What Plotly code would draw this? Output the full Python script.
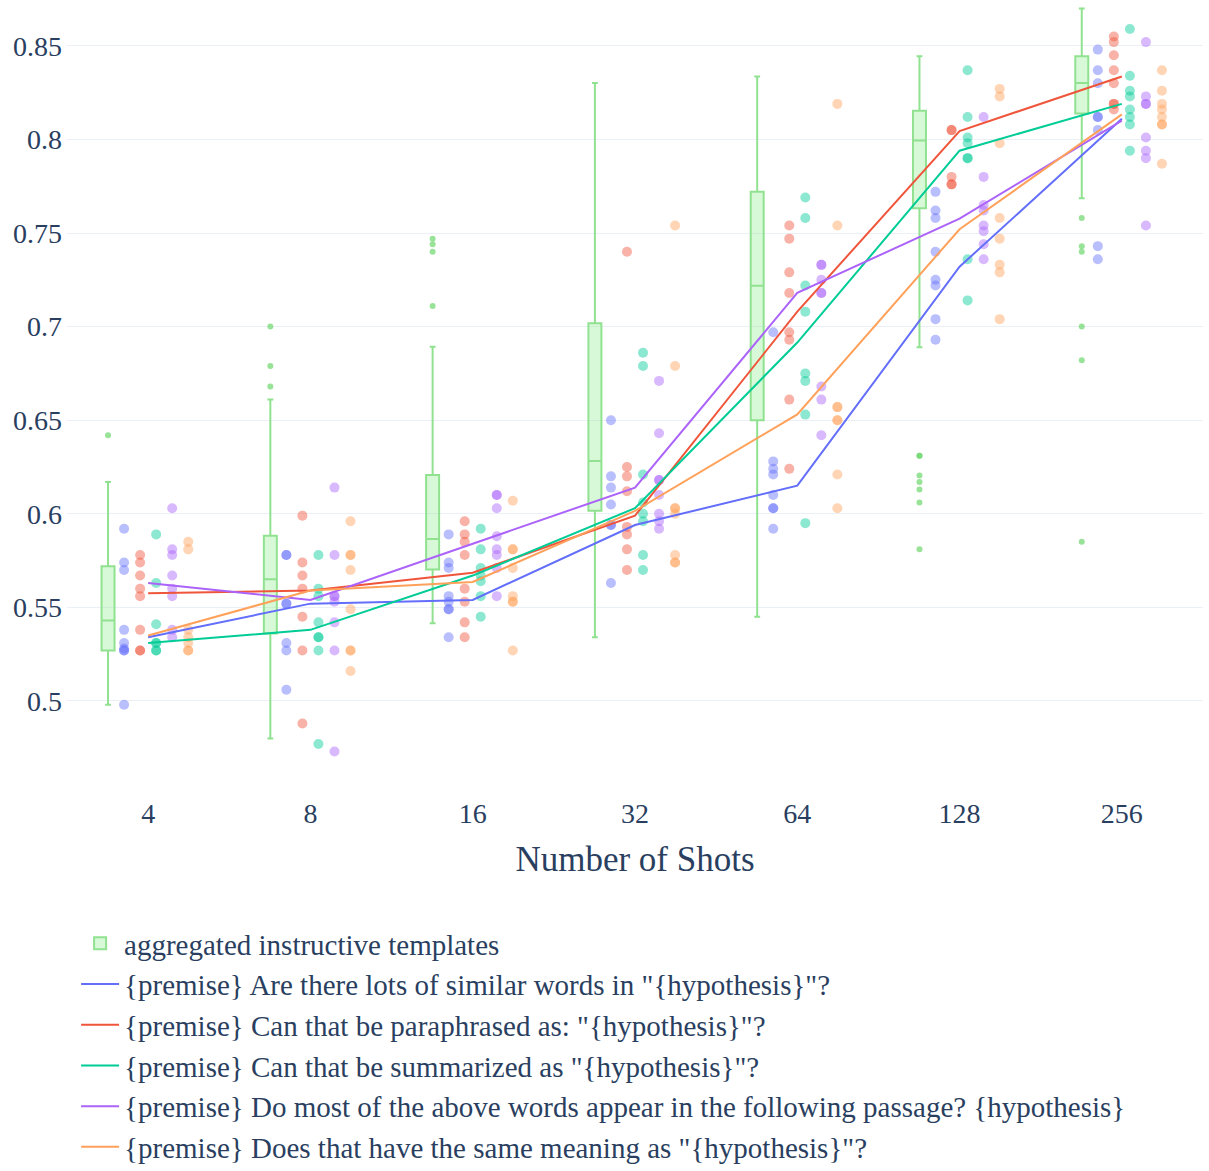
import plotly.graph_objects as go

categories = ["4", "8", "16", "32", "64", "128", "256"]

# aggregated instructive templates (box statistics)
box_lowerfence = [0.498, 0.480, 0.5415, 0.534, 0.545, 0.689, 0.7686]
box_q1 = [0.527, 0.536, 0.5703, 0.6016, 0.650, 0.7632, 0.8139]
box_median = [0.543, 0.565, 0.5865, 0.6282, 0.7219, 0.7994, 0.8302]
box_q3 = [0.572, 0.5883, 0.6207, 0.7018, 0.7721, 0.8153, 0.8445]
box_upperfence = [0.617, 0.661, 0.6893, 0.8301, 0.8336, 0.8444, 0.8699]
box_outliers = [
    [0.642],
    [0.668, 0.679, 0.700],
    [0.711, 0.740, 0.744, 0.747],
    [],
    [],
    [0.631, 0.631, 0.6205, 0.617, 0.613, 0.606, 0.581],
    [0.758, 0.743, 0.740, 0.700, 0.682, 0.585],
]

names = [
    '{premise} Are there lots of similar words in "{hypothesis}"?',
    '{premise} Can that be paraphrased as: "{hypothesis}"?',
    '{premise} Can that be summarized as "{hypothesis}"?',
    '{premise} Do most of the above words appear in the following passage? {hypothesis}',
    '{premise} Does that have the same meaning as "{hypothesis}"?',
]
colors = ["#636EFA", "#EF553B", "#00CC96", "#AB63FA", "#FFA15A"]

blue_points = [
    [0.592, 0.574, 0.570, 0.538, 0.531, 0.528, 0.527, 0.527, 0.498],
    [0.578, 0.578, 0.552, 0.552, 0.531, 0.527, 0.506],
    [0.589, 0.574, 0.571, 0.556, 0.553, 0.549, 0.549, 0.534],
    [0.650, 0.620, 0.614, 0.605, 0.594, 0.594, 0.563],
    [0.697, 0.628, 0.624, 0.621, 0.610, 0.603, 0.603, 0.592],
    [0.772, 0.762, 0.758, 0.740, 0.725, 0.722, 0.704, 0.693],
    [0.848, 0.837, 0.830, 0.812, 0.812, 0.805, 0.743, 0.736],
]
red_points = [
    [0.578, 0.574, 0.567, 0.560, 0.556, 0.538, 0.527, 0.527],
    [0.599, 0.574, 0.567, 0.560, 0.545, 0.527, 0.488],
    [0.596, 0.589, 0.585, 0.578, 0.560, 0.553, 0.542, 0.534],
    [0.740, 0.625, 0.620, 0.612, 0.593, 0.589, 0.581, 0.570],
    [0.754, 0.747, 0.729, 0.718, 0.697, 0.693, 0.661, 0.624],
    [0.805, 0.805, 0.780, 0.776, 0.776],
    [0.855, 0.852, 0.845, 0.837, 0.830, 0.819, 0.819, 0.816],
]
green_points = [
    [0.589, 0.563, 0.541, 0.531, 0.531, 0.527, 0.527],
    [0.578, 0.560, 0.556, 0.542, 0.534, 0.534, 0.527, 0.477],
    [0.592, 0.581, 0.571, 0.567, 0.564, 0.556, 0.545],
    [0.686, 0.679, 0.621, 0.606, 0.600, 0.596, 0.578, 0.570],
    [0.769, 0.758, 0.722, 0.708, 0.675, 0.671, 0.653, 0.595],
    [0.837, 0.812, 0.801, 0.798, 0.790, 0.790, 0.736, 0.714],
    [0.859, 0.834, 0.826, 0.823, 0.816, 0.812, 0.808, 0.794],
]
purple_points = [
    [0.603, 0.581, 0.578, 0.567, 0.560, 0.556, 0.538, 0.534],
    [0.614, 0.578, 0.556, 0.556, 0.553, 0.542, 0.527, 0.473],
    [0.610, 0.610, 0.603, 0.588, 0.581, 0.578, 0.571, 0.556],
    [0.671, 0.643, 0.618, 0.618, 0.610, 0.600, 0.596, 0.592],
    [0.733, 0.733, 0.725, 0.718, 0.718, 0.668, 0.661, 0.642],
    [0.812, 0.780, 0.765, 0.762, 0.754, 0.751, 0.744, 0.736],
    [0.852, 0.823, 0.819, 0.819, 0.801, 0.794, 0.790, 0.754],
]
orange_points = [
    [0.585, 0.581, 0.538, 0.534, 0.531, 0.527, 0.527],
    [0.596, 0.578, 0.578, 0.570, 0.549, 0.527, 0.527, 0.516],
    [0.607, 0.581, 0.581, 0.571, 0.556, 0.553, 0.553, 0.527],
    [0.754, 0.679, 0.603, 0.603, 0.600, 0.578, 0.574, 0.574],
    [0.819, 0.754, 0.657, 0.657, 0.650, 0.650, 0.621, 0.603],
    [0.827, 0.823, 0.798, 0.758, 0.747, 0.733, 0.729, 0.704],
    [0.837, 0.826, 0.819, 0.816, 0.812, 0.808, 0.808, 0.787],
]

blue_line = [0.534, 0.552, 0.554, 0.594, 0.615, 0.732, 0.811]
red_line = [0.5575, 0.559, 0.5685, 0.599, 0.708, 0.8045, 0.8336]
green_line = [0.531, 0.538, 0.567, 0.603, 0.6915, 0.794, 0.819]
purple_line = [0.563, 0.554, 0.584, 0.614, 0.718, 0.7577, 0.810]
orange_line = [0.535, 0.559, 0.5636, 0.6016, 0.6531, 0.752, 0.8134]

all_points = [blue_points, red_points, green_points, purple_points, orange_points]
all_lines = [blue_line, red_line, green_line, purple_line, orange_line]

# group layout: 6 slots per category (box + 5 templates)
n_slots = 6
group_width = 0.593
slot = group_width / n_slots
offsets = [-group_width / 2 + slot * (k + 0.5) for k in range(n_slots)]
idx = list(range(len(categories)))

FONT = "Liberation Serif"
BOX_LINE = "rgb(144,226,144)"

fig = go.Figure()

fig.add_trace(go.Box(
    name="aggregated instructive templates",
    x=[i + offsets[0] for i in idx],
    q1=box_q1, median=box_median, q3=box_q3,
    lowerfence=box_lowerfence, upperfence=box_upperfence,
    width=0.08, whiskerwidth=0.45,
    boxpoints=False,
    line=dict(color=BOX_LINE, width=2),
    fillcolor="rgba(144,238,144,0.35)",
    legendgroup="box",
))
ox, oy = [], []
for i, vals in zip(idx, box_outliers):
    for v in vals:
        ox.append(i + offsets[0])
        oy.append(v)
fig.add_trace(go.Scatter(
    x=ox, y=oy, mode="markers",
    marker=dict(color="rgba(110,215,110,0.7)", size=6),
    showlegend=False, legendgroup="box", hoverinfo="y",
))

for k, (pts, col, nm) in enumerate(zip(all_points, colors, names)):
    px, py = [], []
    for i, vals in zip(idx, pts):
        for v in vals:
            px.append(i + offsets[k + 1])
            py.append(v)
    fig.add_trace(go.Scatter(
        x=px, y=py, mode="markers",
        marker=dict(color=col, size=10, opacity=0.45),
        showlegend=False, legendgroup=nm, name=nm,
    ))

for line, col, nm in zip(all_lines, colors, names):
    fig.add_trace(go.Scatter(
        x=idx, y=line, mode="lines", name=nm,
        line=dict(color=col, width=2), legendgroup=nm,
    ))

fig.update_layout(
    template="plotly_white",
    width=1209, height=1171,
    margin=dict(l=67, r=6, t=0, b=383, autoexpand=False),
    font=dict(family=FONT, size=28, color="#2a3f5f"),
    xaxis=dict(
        tickmode="array", tickvals=idx, ticktext=categories,
        range=[-0.5, 6.5], showgrid=False, zeroline=False,
        title=dict(text="Number of Shots", font=dict(size=35), standoff=18),
        tickfont=dict(size=28), ticklabelstandoff=6,
    ),
    yaxis=dict(
        range=[0.4535, 0.8745], dtick=0.05, zeroline=False,
        tickfont=dict(size=28), gridcolor="#EBEFF8", ticklabelstandoff=4,
    ),
    legend=dict(
        orientation="v", x=0.008, xanchor="left", y=-0.165, yanchor="top",
        font=dict(size=29), itemwidth=38, tracegroupgap=0,
        bgcolor="rgba(0,0,0,0)",
    ),
    showlegend=True,
)

fig.write_html("out.html")
